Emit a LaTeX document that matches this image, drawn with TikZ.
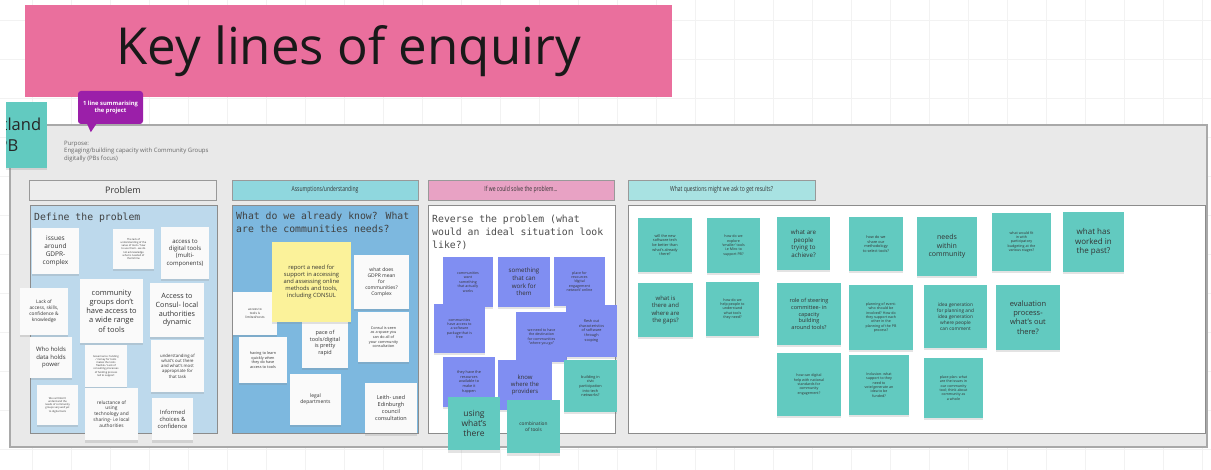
\documentclass[tikz,border=0pt]{standalone}
\usepackage{fontspec}
\setmainfont{Open Sans}
\newfontfamily\monof{DejaVu Sans Mono}
\newfontfamily\condf[FakeStretch=0.72]{Open Sans}
\usetikzlibrary{shadows}
\definecolor{titlepink}{HTML}{EA6F9D}
\definecolor{callout}{HTML}{9B1FA9}
\definecolor{stickteal}{HTML}{62CAC0}
\definecolor{pblue}{HTML}{808EF2}
\definecolor{yel}{HTML}{FBF29A}
\definecolor{panA}{HTML}{BDD9EC}
\definecolor{panB}{HTML}{7DB8DF}
\definecolor{hdA}{HTML}{EDEDED}
\definecolor{hdB}{HTML}{8FD7DE}
\definecolor{hdC}{HTML}{E8A2C4}
\definecolor{hdD}{HTML}{A8E2E2}
\definecolor{framefill}{HTML}{E9E9E9}
\definecolor{frameline}{HTML}{A9A9A9}
\definecolor{gridc}{HTML}{F2F2F2}
\tikzset{
  basenote/.style={inner sep=1pt, align=center, text=black!80,
    drop shadow={opacity=0.22, shadow xshift=0pt, shadow yshift=-2.5pt}},
  wnote/.style={basenote, fill=white!98!black},
  ynote/.style={basenote, fill=yel},
  pnote/.style={basenote, fill=pblue},
  tnote/.style={basenote, fill=stickteal},
  hdr/.style={draw=black!40, line width=0.7pt, minimum height=20pt, inner sep=0pt, text=black!80},
  pnl/.style={draw=black!45, line width=0.8pt, inner sep=0pt},
  ptitle/.style={anchor=north west, align=left, inner sep=0pt, text=black!75,
    font={\monof\fontsize{9.8}{13}\selectfont}}
}
% name, x1, y1, x2, y2, style, font size, text
\newcommand\stk[8]{%
  \pgfmathsetmacro\stkw{#4-#2}\pgfmathsetmacro\stkh{#5-#3}%
  \pgfmathsetmacro\stkb{#7*1.22}%
  \node[#6, minimum width=\stkw pt, minimum height=\stkh pt,
    font={\fontsize{#7}{\stkb}\selectfont}] (#1) at ({(#2+#4)/2},{(#3+#5)/2}) {#8};}
\begin{document}
\begin{tikzpicture}[x=1pt,y=-1pt]
\useasboundingbox (0,0) rectangle (1211,470);
\fill[white] (0,0) rectangle (1211,470);
\foreach \gx in {32,71,...,1211} \draw[gridc, line width=0.6pt] (\gx,0) -- (\gx,470);
\foreach \gy in {20,59,...,470} \draw[gridc, line width=0.6pt] (0,\gy) -- (1211,\gy);
% frame
\draw[frameline, fill=framefill, line width=1.2pt] (10,125) rectangle (1207,447);
% title
\node[fill=titlepink, minimum width=647pt, minimum height=92pt, inner sep=0pt,
  font=\fontsize{51}{58}\selectfont, text=black!90] (title) at (348.5,51) {Key lines of enquiry};
% Scotland PB sticky (cut at left)
\begin{scope}
\clip (6,95) rectangle (60,180);
\node[tnote, minimum width=78pt, minimum height=66pt, font=\fontsize{16.5}{21}\selectfont, text=black!85] (scot) at (8,135) {Scotland\\PB};
\end{scope}
% callout
\node[fill=callout, rounded corners=3pt, text=white, minimum width=65pt, minimum height=33pt,
  align=center, inner sep=0pt, font={\fontsize{5.8}{7}\selectfont\bfseries}] (call) at (110.5,107.5) {1 line summarising\\the project};
\fill[callout] ([xshift=9pt,yshift=1pt]call.south west) -- ([xshift=19pt,yshift=1pt]call.south west) -- ([xshift=13pt,yshift=-8pt]call.south west) -- cycle;
\node[anchor=north west, align=left, inner sep=0pt, text=black!60, font=\fontsize{6}{7.5}\selectfont] (purpose) at (64,141)
  {Purpose:\\Engaging/building capacity with Community Groups\\digitally (PBs focus)};
% headers
\node[hdr, fill=hdA, minimum width=187pt, font=\fontsize{9}{10}\selectfont] (h1) at (123,190) {Problem};
\node[hdr, fill=hdB, minimum width=186pt, font={\condf\fontsize{7}{8}\selectfont}] (h2) at (325,190) {Assumptions/understanding};
\node[hdr, fill=hdC, minimum width=186pt, font={\condf\fontsize{7}{8}\selectfont}] (h3) at (521,190) {If we could solve the problem...};
\node[hdr, fill=hdD, minimum width=187pt, font={\condf\fontsize{7}{8}\selectfont}] (h4) at (721.5,190) {What questions might we ask to get results?};
% panels
\node[pnl, fill=panA, minimum width=187pt, minimum height=228pt] (pan1) at (123.5,319) {};
\node[pnl, fill=panB, minimum width=186pt, minimum height=228pt] (pan2) at (325,319) {};
\node[pnl, fill=white, minimum width=187pt, minimum height=228pt] (pan3) at (521.5,319) {};
\node[pnl, fill=white, minimum width=577pt, minimum height=228pt] (pan4) at (916.5,319) {};
\node[ptitle] (t1) at (34,213) {Define the problem};
\node[ptitle] (t2) at (236,212) {What do we already know? What\\are the communities needs?};
\node[ptitle, text=black!70] (t3) at (432,215) {Reverse the problem (what\\would an ideal situation look\\like?)};
% Problem stickies
\stk{p1}{32}{228}{79}{274}{wnote}{6.5}{issues\\around\\GDPR-\\complex}
\stk{p2}{113}{229}{154}{269}{wnote}{2.6}{The lack of\\understanding of the\\value of tools / how\\to use them - we do\\not acknowledge\\what is needed of\\them/time}
\stk{p3}{161}{227}{209}{279}{wnote}{6}{access to\\digital tools\\(multi-\\components)}
\stk{p4}{20}{288}{68}{335}{wnote}{4.8}{Lack of\\access, skills,\\confidence \&\\knowledge}
\stk{p5}{80}{279}{143}{343}{wnote}{7.5}{community\\groups don't\\have access to\\a wide range\\of tools}
\stk{p6}{150}{283}{204}{337}{wnote}{7.2}{Access to\\Consul- local\\authorities\\dynamic}
\stk{p7}{30}{337}{72}{378}{wnote}{6}{Who holds\\data holds\\power}
\stk{p8}{85}{345}{127}{387}{wnote}{2.6}{Governance: funding\\/ money for tools\\makes the tools\\flexible / Lack of\\consulting processes\\of funding process\\led to support}
\stk{p9}{151}{340}{204}{392}{wnote}{4.3}{understanding of\\what's out there\\and what's most\\appropriate for\\that task}
\stk{p10}{37}{385}{78}{425}{wnote}{2.6}{We can't/don't\\understand the\\needs of community\\groups very well yet\\to digital tools}
\stk{p11}{85}{388}{138}{440}{wnote}{4.8}{reluctance of\\using\\technology and\\sharing- i.e local\\authorities}
\stk{p12}{152}{398}{193}{440}{wnote}{5.8}{Informed\\choices \&\\confidence}
% Assumptions stickies
\stk{a3}{233}{292}{277}{335}{wnote}{3.2}{access to\\tools is\\limited/costs}
\stk{a4}{302}{318}{348}{368}{wnote}{5.5}{pace of\\tools/digital\\is pretty\\rapid}
\stk{a1}{272}{242}{351}{322}{ynote}{5.8}{report a need for\\support in accessing\\and assessing online\\methods and tools,\\including CONSUL}
\stk{a2}{354}{255}{409}{309}{wnote}{5}{what does\\GDPR mean\\for\\communities?\\Complex}
\stk{a5}{358}{312}{409}{362}{wnote}{3.8}{Consul is seen\\as a space you\\can do all of\\your community\\consultation}
\stk{a6}{239}{337}{287}{383}{wnote}{3.8}{having to learn\\quickly when\\they do have\\access to tools}
\stk{a7}{290}{374}{341}{425}{wnote}{5}{legal\\departments}
\stk{a8}{365}{383}{417}{433}{wnote}{5.5}{Leith- used\\Edinburgh\\council\\consultation}
% Reverse stickies
\stk{r1}{443}{257}{493}{307}{pnote}{3.6}{communities\\want\\something\\that actually\\works}
\stk{r2}{498}{257}{550}{307}{pnote}{6.2}{something\\that can\\work for\\them}
\stk{r3}{554}{257}{605}{306}{pnote}{3.6}{place for\\resources\\`digital\\engagement\\network' online}
\stk{r4}{434}{304}{485}{353}{pnote}{3.6}{communities\\have access to\\a software\\package that is\\free}
\stk{r5}{516}{312}{567}{362}{pnote}{3.6}{we need to have\\the destination\\for communities\\``where you go''}
\stk{r6}{566}{305}{617}{357}{pnote}{3.8}{flesh out\\characteristics\\of software\\through\\scoping}
\stk{r7}{443}{357}{495}{407}{pnote}{3.8}{they have the\\resources\\available to\\make it\\happen}
\stk{r8}{498}{360}{552}{410}{pnote}{6}{know\\where the\\providers}
\stk{r9}{564}{360}{617}{412}{tnote}{3.8}{building in\\civic\\participation\\into tech\\networks?}
\stk{r10}{448}{397}{500}{450}{tnote}{8.5}{using\\what's\\there}
\stk{r11}{507}{400}{560}{453}{tnote}{4.8}{combination\\of tools}
% Question stickies
\stk{q1}{638}{218}{692}{272}{tnote}{3.8}{will the new\\software tech\\be better than\\what's already\\there?}
\stk{q2}{707}{218}{760}{273}{tnote}{3.6}{how do we\\explore\\`smaller' tools\\i.e Miro to\\support PB?}
\stk{q3}{777}{217}{830}{270}{tnote}{6.2}{what are\\people\\trying to\\achieve?}
\stk{q4}{849}{217}{903}{271}{tnote}{3.8}{how do we\\share our\\methodology\\to select tools?}
\stk{q5}{917}{217}{977}{276}{tnote}{7}{needs\\within\\community}
\stk{q6}{992}{213}{1051}{271}{tnote}{3.6}{what would fit\\in with\\participatory\\budgeting at the\\various stages?}
\stk{q7}{1063}{212}{1124}{272}{tnote}{8}{what has\\worked in\\the past?}
\stk{q8}{638}{283}{693}{337}{tnote}{6}{what is\\there and\\where are\\the gaps?}
\stk{q9}{706}{282}{759}{336}{tnote}{3.6}{how do we\\help people to\\understand\\what tools\\they need?}
\stk{q10}{777}{283}{841}{345}{tnote}{5.5}{role of steering\\committee- in\\capacity\\building\\around tools?}
\stk{q11}{849}{285}{913}{350}{tnote}{3.6}{planning of event-\\who should be\\involved? How do\\they support each\\other in the\\planning of the PB\\process?}
\stk{q12}{924}{285}{987}{348}{tnote}{4.8}{idea generation\\for planning and\\idea generation\\where people\\can comment}
\stk{q13}{996}{285}{1060}{350}{tnote}{7.5}{evaluation\\process-\\what's out\\there?}
\stk{q14}{777}{353}{841}{416}{tnote}{3.6}{how can digital\\help with national\\standards for\\community\\engagement?}
\stk{q15}{849}{355}{909}{415}{tnote}{3.6}{Inclusion- what\\support to they\\need to\\vote/generate an\\idea to be\\funded?}
\stk{q16}{924}{358}{983}{418}{tnote}{3.6}{place plan- what\\are the issues in\\our community\\tool; think about\\community as\\a whole}
\end{tikzpicture}
\end{document}
